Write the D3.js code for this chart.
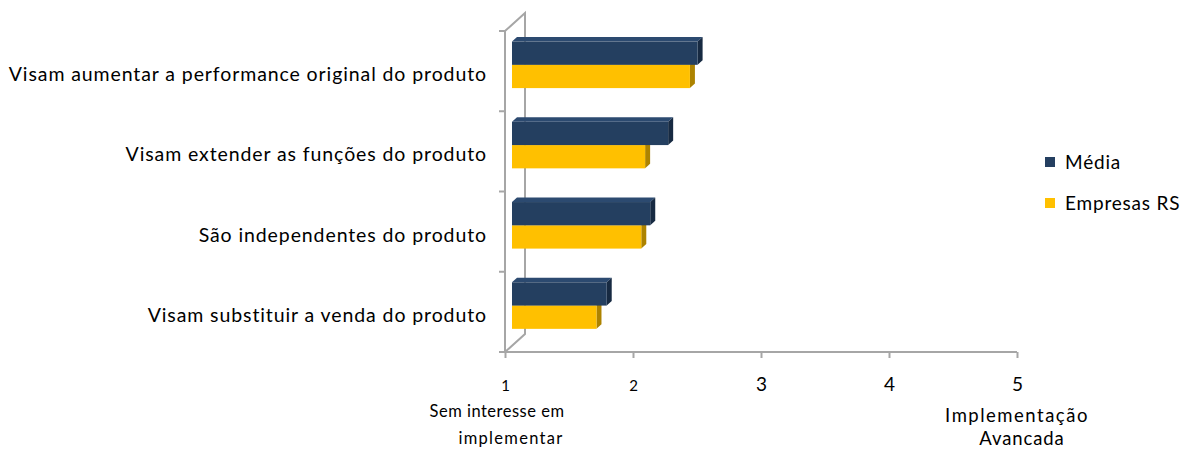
<!DOCTYPE html>
<html>
<head>
<meta charset="utf-8">
<script src="https://cdn.jsdelivr.net/npm/d3@7/dist/d3.min.js"></script>
<style>
  html, body { margin: 0; padding: 0; background: #fff; }
  svg { display: block; font-family: Lato, "Open Sans", sans-serif; }
</style>
</head>
<body>
<svg id="chart" width="1184" height="450"></svg>
<script>
// Categories (top to bottom) and series values on the 1–5 scale
const categories = [
  "Visam aumentar a performance original do produto",
  "Visam extender as funções do produto",
  "São independentes do produto",
  "Visam substituir a venda do produto"
];
const seriesNames = ["Média", "Empresas RS"];
const mediaValues = [2.45, 2.22, 2.08, 1.74];
const empresasValues = [2.39, 2.04, 2.01, 1.66];
const tickValues = [1, 2, 3, 4, 5];
const lowLabel = ["Sem interesse em", "implementar"];
const highLabel = ["Implementação", "Avancada"];

const colors = {
  "Média": { front: "#243f60", top: "#2c4a70", side: "#172a42" },
  "Empresas RS": { front: "#ffc000", top: "#ffcf40", side: "#ad8300" }
};

const svg = d3.select("#chart");

// Front plane of the plot and the depth vector of the 3D box
const plot = { left: 505, right: 1017, top: 31, bottom: 352 };
const depth = { dx: 20, dy: -18 };
const barFront = 0.35, barBack = 0.6; // bar slab position inside the depth

const x = d3.scaleLinear().domain([1, 5]).range([plot.left, plot.right]);
const y = d3.scaleBand().domain(categories).range([plot.top, plot.bottom])
  .paddingInner(0.42).paddingOuter(0.21);
const ySeries = d3.scaleBand().domain(seriesNames).range([0, y.bandwidth()]);

const axisColor = "#a6a6a6";

// Side wall (back edge + diagonals)
const wall = svg.append("g").attr("stroke", axisColor).attr("stroke-width", 2).attr("fill", "none");
wall.append("path").attr("d", d3.line()([
  [plot.left, plot.top],
  [plot.left + depth.dx, plot.top + depth.dy],
  [plot.left + depth.dx, plot.bottom + depth.dy],
  [plot.left, plot.bottom]
]));

// Bars as 3D slabs: front face, top face, right side
const rows = categories.map((c, i) => ({ cat: c, values: [
  { name: "Média", v: mediaValues[i] },
  { name: "Empresas RS", v: empresasValues[i] }
]}));

const ox0 = depth.dx * barFront, oy0 = depth.dy * barFront;
const ox1 = depth.dx * barBack, oy1 = depth.dy * barBack;

rows.forEach(row => {
  // draw lower series first so the upper one covers its top face
  row.values.slice().reverse().forEach(d => {
    const c = colors[d.name];
    const x0 = x(1) + ox0, x1 = x(d.v) + ox0;
    const y0 = y(row.cat) + ySeries(d.name) + oy0;
    const y1 = y0 + ySeries.bandwidth();
    const ddx = ox1 - ox0, ddy = oy1 - oy0;
    const g = svg.append("g");
    g.append("path").attr("fill", c.top).attr("d", d3.line()([
      [x0, y0], [x0 + ddx, y0 + ddy], [x1 + ddx, y0 + ddy], [x1, y0]
    ]) + "Z");
    g.append("path").attr("fill", c.side).attr("d", d3.line()([
      [x1, y0], [x1 + ddx, y0 + ddy], [x1 + ddx, y1 + ddy], [x1, y1]
    ]) + "Z");
    g.append("rect").attr("fill", c.front)
      .attr("x", x0).attr("y", y0).attr("width", x1 - x0).attr("height", y1 - y0);
  });
});

// Front axes
const ax = svg.append("g").attr("stroke", axisColor).attr("stroke-width", 2).attr("fill", "none");
ax.append("line").attr("x1", plot.left).attr("x2", plot.left).attr("y1", plot.top).attr("y2", plot.bottom);
ax.append("line").attr("x1", plot.left - 6).attr("x2", plot.right).attr("y1", plot.bottom).attr("y2", plot.bottom);

// Category tick marks on the vertical axis (band boundaries)
const bandEdges = categories.map(c => y(c) - y.step() * y.paddingInner() / 2);
bandEdges.push(plot.bottom);
bandEdges[0] = plot.top;
bandEdges.forEach(v => {
  ax.append("line").attr("x1", plot.left - 6).attr("x2", plot.left).attr("y1", v).attr("y2", v);
});

// Value axis ticks and labels
const xAxis = d3.axisBottom(x).tickValues(tickValues).tickSize(6).tickPadding(22)
  .tickFormat(d3.format("d"));
const xg = svg.append("g").attr("transform", `translate(0,${plot.bottom})`).call(xAxis);
xg.select(".domain").remove();
xg.selectAll(".tick line").attr("stroke", axisColor).attr("stroke-width", 2);
xg.selectAll(".tick text").attr("font-family", "Lato, sans-serif").attr("fill", "#000")
  .attr("font-size", d => d <= 2 ? 15 : 19)
  .attr("dy", d => d <= 2 ? "0.71em" : "0.6em");

// Scale extreme descriptions
const low = svg.append("g").attr("font-size", 16.5).attr("fill", "#000").attr("text-anchor", "middle");
low.append("text").attr("x", x(1) - 8).attr("y", 417).attr("letter-spacing", 0.5).text(lowLabel[0]);
low.append("text").attr("x", x(1) + 6).attr("y", 444).attr("letter-spacing", 1.3).text(lowLabel[1]);
const high = svg.append("g").attr("font-size", 18.5).attr("fill", "#000").attr("text-anchor", "middle");
high.append("text").attr("x", x(5)).attr("y", 422).attr("letter-spacing", 1.5).text(highLabel[0]);
high.append("text").attr("x", x(5) + 5).attr("y", 445).attr("letter-spacing", 0.9).text(highLabel[1]);

// Category labels
svg.append("g").attr("font-size", 19.5).attr("letter-spacing", 0.9).attr("fill", "#000")
  .attr("text-anchor", "end")
  .selectAll("text").data(categories).join("text")
  .attr("x", 487)
  .attr("y", d => y(d) + y.bandwidth() / 2 + 10)
  .text(d => d);

// Legend
const legend = svg.append("g").attr("font-size", 19).attr("letter-spacing", 0.8).attr("fill", "#000");
seriesNames.forEach((name, i) => {
  const ly = 162 + i * 41;
  legend.append("rect").attr("x", 1045).attr("y", ly - 5).attr("width", 10).attr("height", 10)
    .attr("fill", colors[name].front);
  legend.append("text").attr("x", 1065).attr("y", ly + 7).text(name);
});
</script>
</body>
</html>
